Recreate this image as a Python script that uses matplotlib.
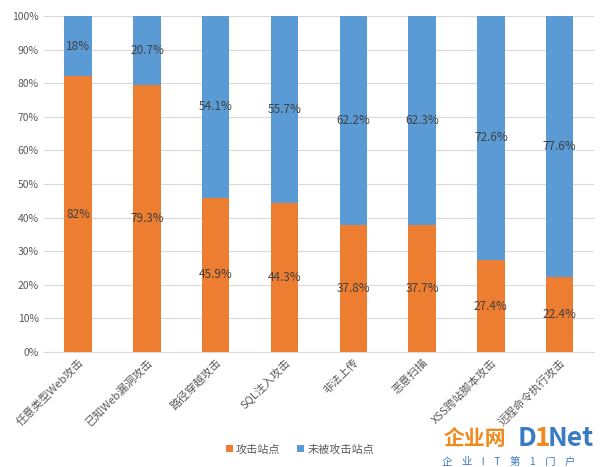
import matplotlib
matplotlib.use("Agg")
import matplotlib.pyplot as plt
from matplotlib.ticker import PercentFormatter

plt.rcParams["font.family"] = ["Noto Sans CJK SC", "DejaVu Sans"]

categories = ["任意类型Web攻击", "已知Web漏洞攻击", "路径穿越攻击", "SQL注入攻击",
              "非法上传", "恶意扫描", "XSS跨站脚本攻击", "远程命令执行攻击"]
attacked = [82, 79.3, 45.9, 44.3, 37.8, 37.7, 27.4, 22.4]
not_attacked = [18, 20.7, 54.1, 55.7, 62.2, 62.3, 72.6, 77.6]
attacked_labels = ["82%", "79.3%", "45.9%", "44.3%", "37.8%", "37.7%", "27.4%", "22.4%"]
not_attacked_labels = ["18%", "20.7%", "54.1%", "55.7%", "62.2%", "62.3%", "72.6%", "77.6%"]

ORANGE = "#ED7D31"
BLUE = "#5B9BD5"
TXT = "#404040"

fig = plt.figure(figsize=(6, 4.67), dpi=100)
ax = fig.add_axes([0.073, 0.246, 0.917, 0.72])

x = list(range(len(categories)))
b1 = ax.bar(x, attacked, width=0.4, color=ORANGE, label="攻击站点", zorder=2)
b2 = ax.bar(x, not_attacked, width=0.4, bottom=attacked, color=BLUE, label="未被攻击站点", zorder=2)
ax.bar_label(b1, labels=attacked_labels, label_type="center", fontsize=8.5, color=TXT)
ax.bar_label(b2, labels=not_attacked_labels, label_type="center", fontsize=8.5, color=TXT)

ax.set_xlim(-0.5, len(categories) - 0.5)
ax.set_ylim(0, 100)
ax.set_yticks(range(0, 101, 10))
ax.yaxis.set_major_formatter(PercentFormatter(decimals=0))
ax.grid(axis="y", color="#D9D9D9", linewidth=0.8, zorder=0)
for s in ["top", "right", "left"]:
    ax.spines[s].set_visible(False)
ax.spines["bottom"].set_color("#D9D9D9")
ax.tick_params(axis="both", length=0, labelsize=7.5, colors="#595959")
ax.set_xticks(x)
ax.set_xticklabels(categories, rotation=45, ha="right", rotation_mode="anchor", fontsize=8)

fig.legend(loc="lower center", bbox_to_anchor=(0.5, 0.005), ncol=2, frameon=False,
           fontsize=8, handlelength=0.6, handleheight=0.6, handletextpad=0.3,
           columnspacing=1.5, labelcolor="#595959")

# watermark
fig.text(0.74, 0.047, "企业网", fontsize=15, color="#F08A1C", fontweight="bold")
fig.text(0.862, 0.045, "D", fontsize=19, color="#3A7CC4", fontweight="bold")
fig.text(0.892, 0.045, "1", fontsize=19, color="#F08A1C", fontweight="bold")
fig.text(0.912, 0.045, "Net", fontsize=19, color="#3A7CC4", fontweight="bold")
fig.text(0.737, 0.005, "企    业    I    T    第    1    门    户", fontsize=7.5, color="#3A7CC4")

fig.savefig("out.png")
